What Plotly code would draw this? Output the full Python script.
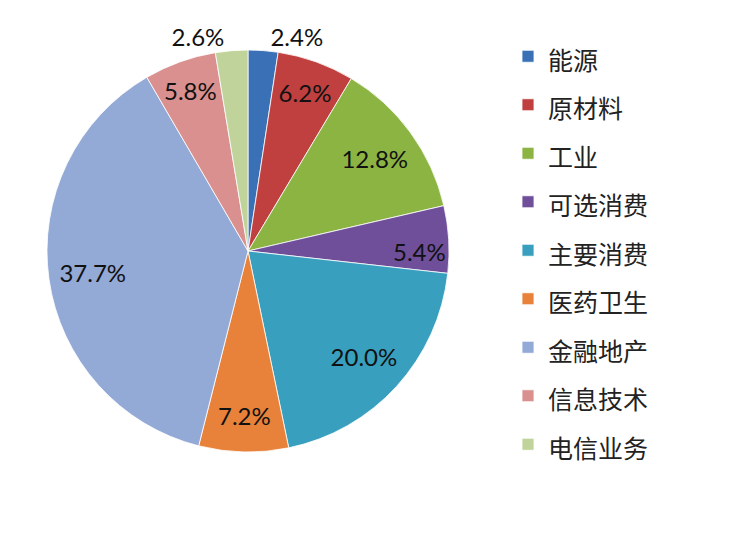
import plotly.graph_objects as go

# 行业占比数据
sectors = ['能源', '原材料', '工业', '可选消费', '主要消费', '医药卫生', '金融地产', '信息技术', '电信业务']
shares = [2.4, 6.2, 12.8, 5.4, 20.0, 7.2, 37.7, 5.8, 2.6]
colors = ['#3A70B5', '#C0403F', '#8CB443', '#6F4F9A', '#38A0BE',
          '#E8823A', '#93A9D6', '#D9908F', '#BFD39A']

W, H = 734, 536
off = 8  # page body margin
cx, cy, r = 248 - off, 251 - off, 201

dom = dict(x=[(cx - r) / W, (cx + r) / W], y=[1 - (cy + r) / H, 1 - (cy - r) / H])
labels_txt = [f'{v:.1f}%' for v in shares]
# small slices get their labels outside
text_pos = ['outside' if v < 3 else 'inside' for v in shares]
legend_labels = [f'<span style="font-size:25px">{s}</span>' for s in sectors]

fig = go.Figure()

# coloured pie, no text
fig.add_trace(go.Pie(
    labels=legend_labels,
    values=shares,
    textinfo='none',
    sort=False,
    direction='clockwise',
    rotation=0,
    marker=dict(colors=colors, line=dict(color='white', width=0.8)),
    domain=dom,
    customdata=labels_txt,
    hovertemplate='%{customdata}<extra></extra>',
))

# transparent ring on top just to place the labels further out
fig.add_trace(go.Pie(
    labels=legend_labels,
    values=shares,
    hole=0.56,
    text=labels_txt,
    textinfo='text',
    textposition=text_pos,
    insidetextorientation='horizontal',
    sort=False,
    direction='clockwise',
    rotation=0,
    showlegend=False,
    hoverinfo='skip',
    marker=dict(colors=['rgba(0,0,0,0)'] * len(shares), line=dict(width=0)),
    textfont=dict(family='Lato, Liberation Sans, sans-serif', size=24, color='#111111'),
    outsidetextfont=dict(family='Lato, Liberation Sans, sans-serif', size=24, color='#111111'),
    domain=dom,
))

fig.update_layout(
    width=W, height=H,
    margin=dict(l=0, r=0, t=0, b=0),
    paper_bgcolor='white',
    uniformtext=dict(minsize=24, mode='show'),
    font=dict(family='Noto Sans CJK SC, sans-serif', color='#222222'),
    legend=dict(
        x=500 / W, xanchor='left',
        y=1 - 19 / H, yanchor='top',
        font=dict(size=35, family='Noto Sans CJK SC, sans-serif', color='#222222'),
        traceorder='normal',
    ),
)

fig.write_html("out.html")
